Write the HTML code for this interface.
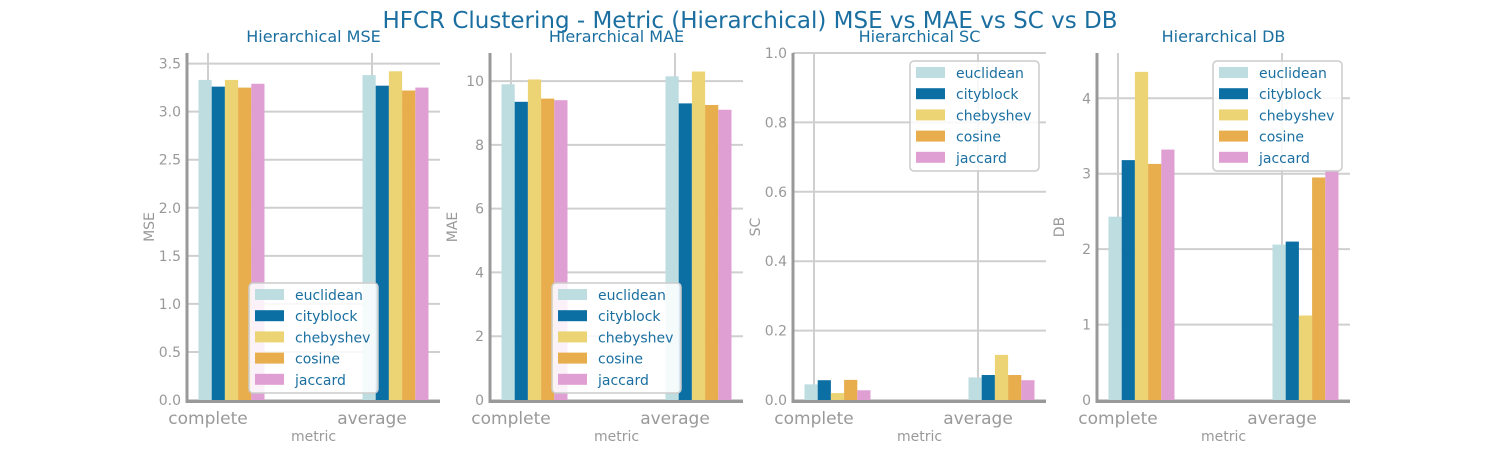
<!DOCTYPE html>
<html><head><meta charset="utf-8"><style>
body{margin:0;background:#fff;font-family:"Liberation Sans","DejaVu Sans",sans-serif}
svg text{font-family:"DejaVu Sans","Liberation Sans",sans-serif}
</style></head><body>
<svg id="c" width="1500" height="450">
<text x="750" y="28" text-anchor="middle" font-size="23" fill="#1a6fa0">HFCR Clustering - Metric (Hierarchical) MSE vs MAE vs SC vs DB</text>
</svg>
<script>
const categories=["complete","average"];
const series=["euclidean","cityblock","chebyshev","cosine","jaccard"];
const colors=["#bddde0","#0b6fa3","#ecd475","#e8ad4c","#e09fd3"];
const mseVals=[[3.33,3.38],[3.26,3.27],[3.33,3.42],[3.25,3.22],[3.29,3.25]];
const maeVals=[[9.9,10.15],[9.35,9.3],[10.05,10.3],[9.45,9.25],[9.4,9.1]];
const scVals=[[0.045,0.065],[0.057,0.072],[0.02,0.13],[0.058,0.072],[0.028,0.057]];
const dbVals=[[2.43,2.06],[3.18,2.1],[4.35,1.12],[3.13,2.95],[3.32,3.05]];
const mseTicks=[0,0.5,1,1.5,2,2.5,3,3.5];
const maeTicks=[0,2,4,6,8,10];
const scTicks=[0,0.2,0.4,0.6,0.8,1.0];
const dbTicks=[0,1,2,3,4];
const panels=[
 {title:"Hierarchical MSE",y:"MSE",vals:mseVals,ticks:mseTicks,max:3.61,x0:187,fmt:v=>v.toFixed(1),leg:[249,283]},
 {title:"Hierarchical MAE",y:"MAE",vals:maeVals,ticks:maeTicks,max:10.88,x0:490,fmt:v=>String(v),leg:[552,283]},
 {title:"Hierarchical SC",y:"SC",vals:scVals,ticks:scTicks,max:1.0,x0:793,fmt:v=>v.toFixed(1),leg:[910,61]},
 {title:"Hierarchical DB",y:"DB",vals:dbVals,ticks:dbTicks,max:4.6,x0:1097,fmt:v=>String(v),leg:[1213,61]}
];
const svg=document.getElementById('c');
const NS="http://www.w3.org/2000/svg";
function mk(t,a,p){const e=document.createElementNS(NS,t);for(const k in a)e.setAttribute(k,a[k]);(p||svg).appendChild(e);return e;}
const topY=53,bot=400,W=253,bw=13.2;
panels.forEach((P,pi)=>{
 const g=mk('g',{});
 
 
 const ys=v=>bot-(v/P.max)*(bot-topY);
 const tickX=i=>P.x0+21+i*164;
 P.ticks.forEach(t=>{
  const y=ys(t);
  const l=mk('line',{x1:P.x0,x2:P.x0+W,y1:y,y2:y,stroke:"#cfcfcf","stroke-width":2},g);
  
  const tx=mk('text',{x:P.x0-6,y:y+5,"text-anchor":"end","font-size":14,fill:"#999"},g);
  tx.textContent=P.fmt(t);
  
 });
 categories.forEach((c,i)=>{
  const x=tickX(i);
  const l=mk('line',{x1:x,x2:x,y1:topY,y2:bot,stroke:"#cfcfcf","stroke-width":2},g);
  
  const tx=mk('text',{x:x,y:424,"text-anchor":"middle","font-size":17,fill:"#999"},g);
  tx.textContent=c;
  
  series.forEach((s,si)=>{
   const v=P.vals[si][i];
   const r=mk('rect',{x:x-9.5+si*bw,y:ys(v),width:bw,height:bot-ys(v),fill:colors[si]},g);
   
  });
 });
 const sp=mk('path',{d:`M${P.x0},${topY} V${bot+1.5} H${P.x0+W}`,fill:"none",stroke:"#999","stroke-width":3},g);
 
 const t=mk('text',{x:P.x0+W/2,y:42,"text-anchor":"middle","font-size":16,fill:"#1a6fa0"},g);
 t.textContent=P.title;
 const xl=mk('text',{x:P.x0+W/2,y:441,"text-anchor":"middle","font-size":14,fill:"#999"},g);
 xl.textContent="metric";
 const yl=mk('text',{x:0,y:0,transform:`translate(${P.x0-33},227) rotate(-90)`,"text-anchor":"middle","font-size":14,fill:"#999"},g);
 yl.textContent=P.y;
 const lg=mk('g',{},g);
 
 const [lx,ly]=P.leg;
 mk('rect',{x:lx,y:ly,width:129,height:110,rx:4,fill:"rgba(255,255,255,0.85)",stroke:"#ccc","stroke-width":1.5},lg);
 series.forEach((s,si)=>{
  const yy=ly+12+si*21.2;
  const sw=mk('rect',{x:lx+6,y:yy-6,width:29,height:11,fill:colors[si]},lg);
  
  const lt=mk('text',{x:lx+46,y:yy+5,"font-size":14,fill:"#1a6fa0"},lg);
  lt.textContent=s;
 });
});
</script>
</body></html>
